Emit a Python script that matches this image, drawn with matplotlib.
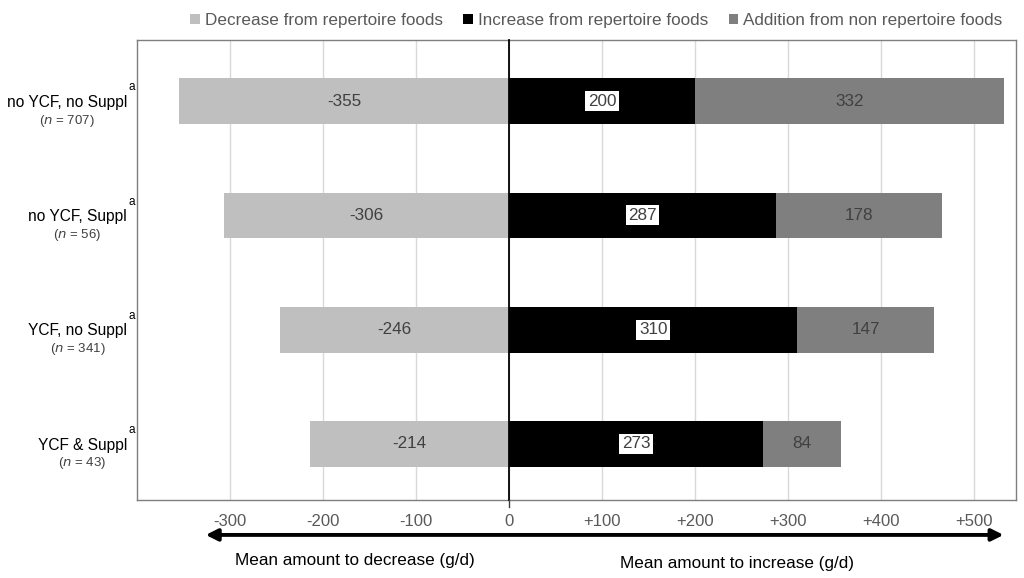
import matplotlib.pyplot as plt

plt.rcParams['font.family'] = ['Liberation Sans', 'DejaVu Sans']

groups = ["no YCF, no Suppl", "no YCF, Suppl", "YCF, no Suppl", "YCF & Suppl"]
n_labels = ["707", "56", "341", "43"]
decrease = [-355, -306, -246, -214]
increase = [200, 287, 310, 273]
addition = [332, 178, 147, 84]
ticks = [-300, -200, -100, 0, 100, 200, 300, 400, 500]
tick_labels = ["-300", "-200", "-100", "0", "+100", "+200", "+300", "+400", "+500"]

c_dec = "#BFBFBF"
c_inc = "#000000"
c_add = "#7F7F7F"
txt = "#404040"
fs = 12.3

fig = plt.figure(figsize=(10.24, 5.78), dpi=100)
ax = fig.add_axes([0.1338, 0.135, 0.8584, 0.7958])

y = list(range(len(groups)))
h = 0.4
ax.barh(y, decrease, height=h, color=c_dec, label="Decrease from repertoire foods", zorder=3)
ax.barh(y, increase, height=h, color=c_inc, label="Increase from repertoire foods", zorder=3)
ax.barh(y, addition, left=increase, height=h, color=c_add, label="Addition from non repertoire foods", zorder=3)

for i in y:
    ax.text(decrease[i] / 2, i, str(decrease[i]), ha="center", va="center", fontsize=fs, color=txt, zorder=4)
    ax.text(increase[i] / 2, i, str(increase[i]), ha="center", va="center", fontsize=fs, color=txt, zorder=4,
            bbox=dict(boxstyle="square,pad=0.15", fc="white", ec="none"))
    ax.text(increase[i] + addition[i] / 2, i, str(addition[i]), ha="center", va="center", fontsize=fs,
            color=txt, zorder=4)

ax.plot([0, 0], [3.49, -0.535], color="black", lw=1.3, zorder=5, clip_on=False)
ax.plot([0, 0], [3.49, 3.55], color="#404040", lw=1, zorder=5, clip_on=False)
ax.set_xlim(-400, 545)
ax.set_ylim(3.49, -0.535)
ax.set_xticks(ticks)
ax.set_xticklabels(tick_labels)
ax.tick_params(axis="x", length=0, pad=10, labelsize=12, labelcolor="#595959")
ax.set_yticks([])
ax.grid(axis="x", color="#D9D9D9", lw=1, zorder=0)
for s in ax.spines.values():
    s.set_color("#7F7F7F")
    s.set_linewidth(1)

# category labels with superscript and n centred under the name
for i in y:
    lab = ax.text(-0.0114, i + 0.01, groups[i], transform=ax.get_yaxis_transform(), ha="right", va="center",
                  fontsize=11.2, color="black")
    ax.text(-0.0025, i - 0.12, "a", transform=ax.get_yaxis_transform(), ha="right", va="center",
            fontsize=8.5, color="black")
    ax.annotate("($n$ = " + n_labels[i] + ")", xy=(0.5, 0), xycoords=lab, xytext=(0, -2),
                textcoords="offset points", ha="center", va="top", fontsize=9.5, color="#404040")

# double arrow and captions
ax.annotate("", xy=(0.989, -0.076), xytext=(0.075, -0.076), xycoords="axes fraction",
            arrowprops=dict(arrowstyle="<|-|>,head_length=0.7,head_width=0.35", color="black", lw=2.8))
ax.text(0.111, -0.132, "Mean amount to decrease (g/d)", transform=ax.transAxes, ha="left", va="center",
        fontsize=fs)
ax.text(0.549, -0.139, "Mean amount to increase (g/d)", transform=ax.transAxes, ha="left", va="center",
        fontsize=fs)

ax.legend(loc="lower right", bbox_to_anchor=(0.998, 1.0), ncol=3, frameon=False, fontsize=fs,
          handlelength=0.55, handleheight=0.55, handletextpad=0.3, columnspacing=1.2,
          borderaxespad=0.3, labelcolor="#595959")

plt.savefig("out.png", dpi=100)
